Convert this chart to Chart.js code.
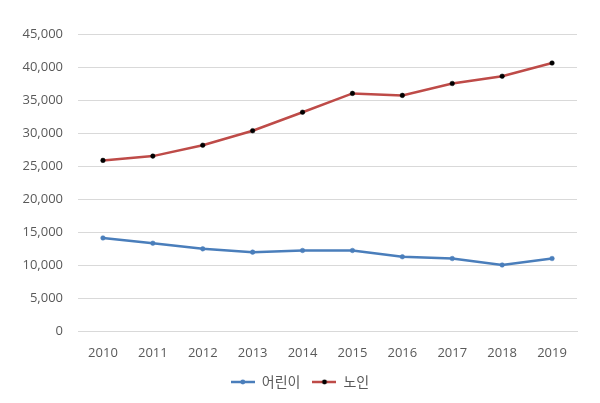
<!DOCTYPE html>
<html>
<head>
<meta charset="utf-8">
<script src="https://cdn.jsdelivr.net/npm/chart.js@4/dist/chart.umd.min.js"></script>
<style>
html,body{margin:0;padding:0;background:#fff;}
#wrap{width:600px;height:403px;position:relative;}
</style>
</head>
<body>
<div id="wrap"><canvas id="c"></canvas></div>
<script>
const years = ['2010','2011','2012','2013','2014','2015','2016','2017','2018','2019'];
const children = [14100, 13300, 12450, 11950, 12200, 12200, 11250, 10980, 10000, 10980];
const elderly = [25850, 26500, 28150, 30350, 33150, 36000, 35700, 37500, 38600, 40600];
const seriesNames = ['어린이', '노인'];
const lineColors = ['#4A7EBB', '#BE4B48'];
const markerColors = ['#4A7EBB', '#000000'];

function legendIcon(line, dot) {
  const c = document.createElement('canvas');
  const r = window.devicePixelRatio || 1;
  c.width = 24 * r; c.height = 10 * r;
  c.style.width = '24px'; c.style.height = '10px';
  const g = c.getContext('2d');
  g.scale(r, r);
  g.strokeStyle = line; g.lineWidth = 2.5;
  g.beginPath(); g.moveTo(0, 5); g.lineTo(24, 5); g.stroke();
  g.fillStyle = dot;
  g.beginPath(); g.arc(12, 5, 2.4, 0, Math.PI * 2); g.fill();
  return c;
}
const icons = [legendIcon(lineColors[0], markerColors[0]), legendIcon(lineColors[1], markerColors[1])];

const font = "'Open Sans', 'Noto Sans CJK KR', sans-serif";

new Chart(document.getElementById('c'), {
  type: 'line',
  data: {
    labels: years,
    datasets: [
      {label: seriesNames[0], data: children, borderColor: lineColors[0], backgroundColor: markerColors[0],
       pointBackgroundColor: markerColors[0], pointBorderColor: markerColors[0], borderWidth: 2.5,
       pointRadius: 2.3, pointBorderWidth: 0.5, tension: 0},
      {label: seriesNames[1], data: elderly, borderColor: lineColors[1], backgroundColor: markerColors[1],
       pointBackgroundColor: markerColors[1], pointBorderColor: markerColors[1], borderWidth: 2.5,
       pointRadius: 2.3, pointBorderWidth: 0.5, tension: 0}
    ]
  },
  options: {
    responsive: true,
    maintainAspectRatio: false,
    animation: false,
    layout: {padding: {top: 34, right: 0, left: 0, bottom: 4}},
    plugins: {
      legend: {
        position: 'bottom',
        labels: {
          usePointStyle: true,
          pointStyleWidth: 24,
          color: '#595959',
          font: {family: "'Noto Sans CJK KR', sans-serif", size: 14},
          boxWidth: 24, boxHeight: 10, padding: 12,
          generateLabels: (chart) => chart.data.datasets.map((d, i) => ({
            text: d.label, pointStyle: icons[i], fillStyle: d.borderColor, strokeStyle: d.borderColor,
            lineWidth: 0, hidden: false, datasetIndex: i, fontColor: '#595959'
          }))
        }
      },
      tooltip: {enabled: false}
    },
    scales: {
      x: {
        offset: true,
        grid: {display: false, drawTicks: false},
        border: {display: true, color: '#D9D9D9', width: 1},
        ticks: {color: '#595959', font: {family: font, size: 13}, padding: 14, maxRotation: 0},
        afterFit: (s) => { s.height = 32; }
      },
      y: {
        min: 0, max: 45000,
        grid: {color: '#D9D9D9', lineWidth: 1, drawTicks: false},
        border: {display: false},
        ticks: {stepSize: 5000, color: '#595959', font: {family: font, size: 13}, padding: 15,
          callback: (v) => v.toLocaleString('en-US')},
        afterFit: (s) => { s.width = 78; }
      },
      yRight: {
        position: 'right',
        min: 0, max: 45000,
        grid: {display: false, drawTicks: false},
        border: {display: false},
        ticks: {display: false},
        afterFit: (s) => { s.width = 23; }
      }
    }
  }
});
</script>
</body>
</html>
